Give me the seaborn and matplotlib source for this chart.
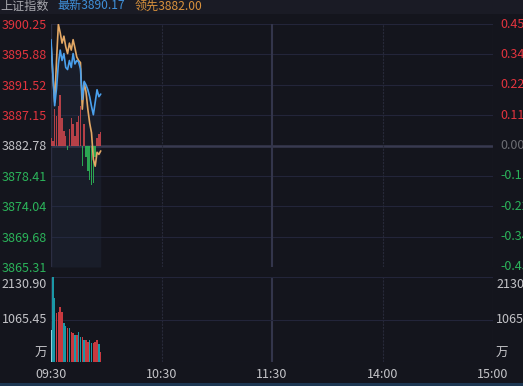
import numpy as np
import matplotlib
matplotlib.use("Agg")
import matplotlib.pyplot as plt
import matplotlib.transforms as mtransforms
from matplotlib.patches import Rectangle
import seaborn as sns
import pandas as pd

# ---------------- data ----------------
title_name = "上证指数"
latest_label = "最新3890.17"
lead_label = "领先3882.00"
prev_close = 3882.78
price_ticks = [3900.25, 3895.88, 3891.52, 3887.15, 3882.78, 3878.41, 3874.04, 3869.68, 3865.31]
pct_ticks = ["0.45%", "0.34%", "0.22%", "0.11%", "0.00%", "-0.11%", "-0.22%", "-0.34%", "-0.45%"]
vol_max = 2130.90
vol_ticks = ["2130.90", "1065.45", "万"]
time_labels = ["09:30", "10:30", "11:30", "14:00", "15:00"]
time_pos = [0, 60, 120, 180, 240]

minutes = list(range(28))
price = [3898.0, 3893.0, 3888.5, 3891.0, 3894.5, 3896.5, 3895.0, 3896.0, 3894.0, 3893.7,
         3895.0, 3894.0, 3896.0, 3894.5, 3895.0, 3894.8, 3893.8, 3889.4, 3892.0, 3891.5,
         3890.8, 3889.8, 3888.4, 3887.2, 3889.0, 3890.8, 3889.8, 3890.17]
lead = [3897.5, 3893.0, 3889.0, 3895.0, 3900.2, 3899.0, 3897.5, 3898.5, 3897.0, 3896.0,
        3897.5, 3896.5, 3898.0, 3896.8, 3895.5, 3895.0, 3894.7, 3888.0, 3891.8, 3890.5,
        3888.0, 3886.0, 3884.6, 3880.8, 3879.8, 3881.8, 3881.5, 3882.0]
strength = [1.15, 0.7, 5.3, 4.3, 5.7, 7.2, 3.9, 2.1, 1.4, -0.7,
            2.4, 3.9, 3.1, 1.4, 3.4, 4.3, 5.7, -2.9, 3.1, -1.7,
            -3.6, -5.0, -5.7, -5.4, -1.7, 1.1, 1.7, 2.0]
volume = [802, 2125, 1604, 1228, 1253, 1379, 1253, 978, 902, 852,
          852, 752, 727, 677, 677, 752, 627, 627, 552, 552,
          501, 552, 476, 476, 501, 552, 451, 251]
vol_dir = ["a", "d", "d", "u", "u", "u", "u", "d", "d", "u",
           "d", "u", "u", "d", "u", "d", "d", "u", "d", "u",
           "u", "d", "d", "u", "u", "u", "d", "u"]

# ---------------- style ----------------
BG = "#14151d"
GRID = "#23253a"
sns.set_theme(style="dark", rc={"axes.facecolor": BG, "figure.facecolor": BG,
                                "patch.edgecolor": "none", "patch.linewidth": 0})
plt.rcParams["font.family"] = ["Noto Sans CJK SC", "DejaVu Sans"]
plt.rcParams["axes.unicode_minus"] = False

W, H = 523, 386
fig = plt.figure(figsize=(W / 100, H / 100), dpi=100)
fig.patch.set_facecolor(BG)

def fx(px):
    return px / W

def fy(py):
    return 1 - py / H

# header and bottom strips
fig.patches.append(Rectangle((0, fy(14)), 1, 14 / H, transform=fig.transFigure,
                             facecolor="#1a1b25", edgecolor="none", zorder=0))
fig.patches.append(Rectangle((0, 0), 1, 3 / H, transform=fig.transFigure,
                             facecolor="#1d3752", edgecolor="none", zorder=0))

L, R = 51, 493
ax = fig.add_axes([fx(L), fy(267), fx(R - L), (267 - 24) / H])
axv = fig.add_axes([fx(L), fy(362), fx(R - L), (362 - 277) / H])

for a in (ax, axv):
    a.set_facecolor(BG)
    a.set_xlim(0, 240)
    for s in a.spines.values():
        s.set_visible(False)
    a.set_xticks([])
    a.tick_params(length=0)
    a.grid(False)

ax.set_ylim(price_ticks[-1], price_ticks[0])
axv.set_ylim(0, vol_max)

# grid lines main
for v in price_ticks:
    if v == prev_close:
        ax.axhline(v, color="#383a50", lw=1.8, zorder=1)
    else:
        ax.axhline(v, color=GRID, lw=0.8, zorder=1)
for a in (ax, axv):
    a.axvline(0, color="#2c2e42", lw=1.0, zorder=1)
    a.axvline(240, color="#2a2c3e", lw=0.8, zorder=1)
    a.axvline(60, color="#272939", lw=0.8, ls=(0, (2, 1)), zorder=1)
    a.axvline(180, color="#272939", lw=0.8, ls=(0, (2, 1)), zorder=1)
    a.axvline(120, color="#33354b", lw=1.5, zorder=1)
for v in (0, vol_max / 2, vol_max):
    axv.axhline(v, color=GRID, lw=0.8, zorder=1)

# fill under price
ax.fill_between(minutes, price, price_ticks[-1], color="#263048", alpha=0.3, lw=0, zorder=1.5)

# strength bars
bar_cols = ["#d2474d" if v >= 0 else "#2fbf5a" for v in strength]
ax.bar(minutes, strength, bottom=prev_close, width=0.8, color=bar_cols, alpha=0.85,
       edgecolor="none", linewidth=0, zorder=2)

# lines
df = pd.DataFrame({"minute": minutes, "price": price, "lead": lead})
sns.lineplot(data=df, x="minute", y="lead", ax=ax, color="#e3a865", lw=1.2, zorder=3)
sns.lineplot(data=df, x="minute", y="price", ax=ax, color="#4aa0ec", lw=1.2, zorder=4)
ax.set_xlabel("")
ax.set_ylabel("")
ax.set_xlim(0, 240)
ax.set_ylim(price_ticks[-1], price_ticks[0])
ax.set_xticks([])

# volume bars
vcol_map = {"u": "#c9393f", "d": "#1b98a6", "a": "#8fd0dc"}
axv.bar(minutes, volume, width=0.8, color=[vcol_map[d] for d in vol_dir],
        edgecolor="none", linewidth=0, zorder=2)

# left tick labels main
FS = 9
ax.set_yticks(price_ticks)
ax.set_yticklabels([f"{v:.2f}" for v in price_ticks])
ax.tick_params(axis="y", pad=3, labelsize=FS, length=0)
for lab, v in zip(ax.get_yticklabels(), price_ticks):
    if v > prev_close:
        lab.set_color("#e3343e")
    elif v < prev_close:
        lab.set_color("#2bb35a")
    else:
        lab.set_color("#c4c4c8")
axv.set_yticks([])

# right pct labels (cut at the image edge as in the source)
trR = mtransforms.blended_transform_factory(ax.transAxes, ax.transData)
for v, t in zip(price_ticks, pct_ticks):
    if v > prev_close:
        c, al = "#e3343e", 1.0
    elif v < prev_close:
        c, al = "#2bb35a", 1.0
    else:
        c, al = "#d8d8dc", 0.45
    ax.text(1.016, v, t, transform=trR, ha="left", va="center", fontsize=FS, color=c, alpha=al)

# volume labels
trV = mtransforms.blended_transform_factory(axv.transAxes, axv.transData)
left_x = -4 / (R - L)
right_x = 1 + 3 / (R - L)
for xx, ha in ((left_x, "right"), (right_x, "left")):
    axv.text(xx, vol_max * 0.985, vol_ticks[0], transform=trV, ha=ha, va="top", fontsize=FS, color="#c4c4c8")
    axv.text(xx, vol_max / 2, vol_ticks[1], transform=trV, ha=ha, va="center", fontsize=FS, color="#c4c4c8")
    axv.text(xx, vol_max * 0.03, vol_ticks[2], transform=trV, ha=ha, va="bottom", fontsize=FS, color="#c4c4c8")

# time labels
trT = mtransforms.blended_transform_factory(axv.transData, fig.transFigure)
for p, t in zip(time_pos, time_labels):
    axv.text(p, fy(375), t, transform=trT, ha="center", va="center", fontsize=FS, color="#c4c4c8")

# header
fig.text(fx(0), fy(6), title_name, ha="left", va="center", fontsize=8.7, color="#a8a8ae")
fig.text(fx(57), fy(6), latest_label, ha="left", va="center", fontsize=8.7, color="#3f8fd8")
fig.text(fx(135), fy(6), lead_label, ha="left", va="center", fontsize=8.7, color="#d8913c")

fig.savefig("out.png", dpi=100, facecolor=BG)
